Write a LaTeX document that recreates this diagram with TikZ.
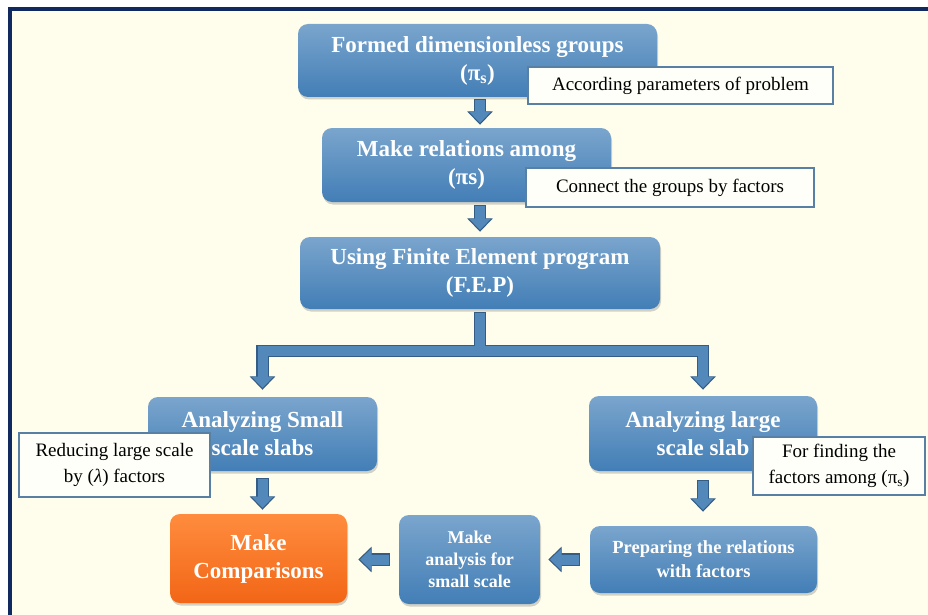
\documentclass[tikz,border=0pt]{standalone}
\usepackage{fontspec}
\setmainfont{Liberation Serif}
\usetikzlibrary{arrows.meta,shadows,calc}

\definecolor{framenavy}{RGB}{16,42,96}
\definecolor{framecream}{RGB}{255,253,235}
\definecolor{boxtop}{RGB}{122,165,205}
\definecolor{boxbot}{RGB}{66,126,182}
\definecolor{comptop}{RGB}{255,140,62}
\definecolor{compbot}{RGB}{242,102,22}
\definecolor{noteline}{RGB}{88,128,164}
\definecolor{arrowfill}{RGB}{82,136,186}
\definecolor{arrowline}{RGB}{52,92,132}

\tikzset{
  stagebox/.style={rounded corners=10pt, top color=boxtop, bottom color=boxbot,
    text=white, align=center, inner sep=0pt,
    font=\bfseries\fontsize{23}{28}\selectfont,
    drop shadow={shadow xshift=1pt, shadow yshift=-2.5pt, opacity=0.35}},
  compbox/.style={stagebox, top color=comptop, bottom color=compbot},
  notebox/.style={draw=noteline, line width=1.2pt, fill={rgb,255:red,255;green,255;blue,250},
    inner sep=0pt, align=center, font=\fontsize{19}{26}\selectfont},
  flowout/.style={draw=arrowline, line width=12.4pt,
    -{Triangle[width=25pt,length=13.5pt]}},
  flowin/.style={draw=arrowfill, line width=10pt,
    -{Triangle[width=21.5pt,length=11.5pt]}},
}

\begin{document}
\begin{tikzpicture}[x=1pt,y=-1pt]
  \useasboundingbox (0,0) rectangle (928,615);
  \clip (0,0) rectangle (928,615);
  % Frame
  \fill[white] (0,0) rectangle (928,615);
  \draw[line width=4pt, draw=framenavy, fill=framecream] (10,9) rectangle (945,640);

  % Stages
  \node[stagebox, minimum width=359pt, minimum height=73pt] (form) at (477.5,60.5)
    {Formed dimensionless groups\\(π\textsubscript{s})};
  \node[stagebox, minimum width=289pt, minimum height=74pt] (rel) at (466.5,165)
    {Make relations among\\(πs)};
  \node[stagebox, minimum width=360pt, minimum height=72pt] (fep) at (480,273)
    {Using Finite Element program\\(F.E.P)};
  \node[stagebox, minimum width=229pt, minimum height=74pt] (small) at (262.5,434)
    {Analyzing Small\\scale slabs};
  \node[stagebox, minimum width=228pt, minimum height=75pt] (large) at (703,433.5)
    {Analyzing large\\scale slab};
  \node[compbox, minimum width=177pt, minimum height=89pt] (comp) at (258.5,558.5)
    {Make\\Comparisons};
  \node[stagebox, minimum width=141pt, minimum height=89pt, font=\bfseries\fontsize{18}{22}\selectfont] (anal) at (469.5,559.5)
    {Make\\analysis for\\small scale};
  \node[stagebox, minimum width=227pt, minimum height=67pt, font=\bfseries\fontsize{18.5}{24}\selectfont] (prep) at (703.5,559.5)
    {Preparing the relations\\with factors};

  % Notes
  \node[notebox, minimum width=305pt, minimum height=37pt] (n1) at (680.5,85.5)
    {According parameters of problem};
  \node[notebox, minimum width=288pt, minimum height=39pt] (n2) at (670,187.5)
    {Connect the groups by factors};
  \node[notebox, minimum width=191pt, minimum height=64pt] (n4) at (114.5,465)
    {Reducing large scale\\by (\textit{λ}) factors};
  \node[notebox, minimum width=172pt, minimum height=58pt] (n6) at (839,466)
    {For finding the\\factors among (π\textsubscript{s})};

  % Block arrows, outline first
  \coordinate (split) at ($(fep.south)+(0,42)$);
  \draw[flowout, shorten <=2pt, shorten >=3pt] (form.south -| fep) -- (rel.north -| fep);
  \draw[flowout, shorten <=3pt, shorten >=5pt] (rel.south -| fep) -- (fep.north);
  \draw[flowout, shorten <=3pt, shorten >=7pt] (fep.south) -- (split) -| (small.north);
  \draw[flowout, shorten <=3pt, shorten >=6pt] (fep.south) -- (split) -| (large.north);
  \draw[flowout, shorten <=7pt, shorten >=4pt] (small.south) -- (small.south |- comp.north);
  \draw[flowout, shorten <=9pt, shorten >=14pt] (large.south) -- (large.south |- prep.north);
  \draw[flowout, shorten <=10pt, shorten >=8pt] (prep.west) -- (prep.west -| anal.east);
  \draw[flowout, shorten <=9pt, shorten >=11pt] (anal.west) -- (anal.west -| comp.east);
  % Block arrows, fill
  \draw[flowin, shorten <=3.2pt, shorten >=4.8pt] (form.south -| fep) -- (rel.north -| fep);
  \draw[flowin, shorten <=4.2pt, shorten >=6.8pt] (rel.south -| fep) -- (fep.north);
  \draw[flowin, shorten <=4.2pt, shorten >=8.8pt] (fep.south) -- (split) -| (small.north);
  \draw[flowin, shorten <=4.2pt, shorten >=7.8pt] (fep.south) -- (split) -| (large.north);
  \draw[flowin, shorten <=8.2pt, shorten >=5.8pt] (small.south) -- (small.south |- comp.north);
  \draw[flowin, shorten <=10.2pt, shorten >=15.8pt] (large.south) -- (large.south |- prep.north);
  \draw[flowin, shorten <=11.2pt, shorten >=9.8pt] (prep.west) -- (prep.west -| anal.east);
  \draw[flowin, shorten <=10.2pt, shorten >=12.8pt] (anal.west) -- (anal.west -| comp.east);
\end{tikzpicture}
\end{document}
